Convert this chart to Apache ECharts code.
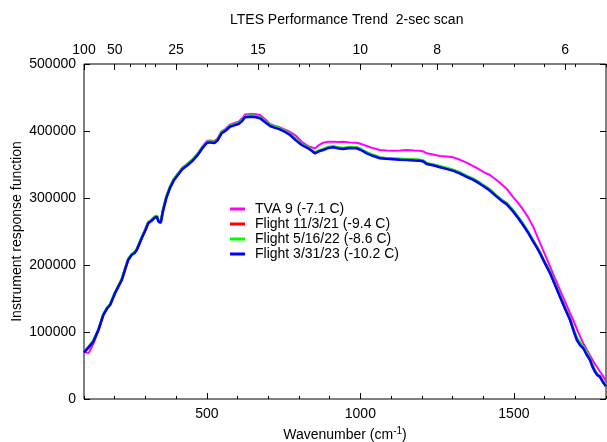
<!DOCTYPE html>
<html>
<head>
<meta charset="utf-8">
<script src="https://cdn.jsdelivr.net/npm/echarts@6/dist/echarts.min.js"></script>
<style>
html, body { margin: 0; padding: 0; background: #fff; }
#main { width: 607px; height: 442px; }
</style>
</head>
<body>
<div id="main"></div>
<script>
// wavenumber (cm-1) sample points, shared by all four curves
var wn = [100,115,130,147,163,175,185,201,223,235,
	244,255,265,272,288,300,309,320,330,337,
	343,350,357,368,380,392,405,420,440,456,
	470,485,500,510,525,535,548,560,575,590,
	603,615,624,646,660,673,690,706,720,738,
	755,771,790,809,830,852,865,879,895,912,
	930,944,965,988,1000,1021,1040,1064,1085,1107,
	1130,1151,1175,1194,1205,1216,1240,1259,1280,1303,
	1325,1346,1368,1390,1405,1422,1440,1460,1477,1498,
	1515,1531,1548,1563,1575,1585,1600,1618,1634,1650,
	1667,1683,1695,1705,1716,1726,1737,1748,1756,1764,
	1772,1780,1790,1800];

// response values, in thousands
var tva9 = [70,68.5,82,102.5,125.5,135.5,141,158.5,178,196,
	208.5,215.5,219,223.5,241,253,263.5,267.5,272,273.5,
	265.5,264.5,281.5,301.5,316.5,327.5,336,345,352.5,359,
	366.5,376.5,385,386,385,389,399.5,403,409.5,412,
	414,419,424.5,425.4,425,423.9,417.5,410.4,408,405.5,
	402,398.5,393,384,377.5,374,379,382.5,384,384,
	383.5,384,383,382.5,381,377.6,374.5,371.6,371,370.6,
	371,371.6,371,370.6,369.5,366.7,364.5,362.7,362,360.7,
	357,352.7,347.5,341.8,338,334.3,328,320.5,313.5,301,
	292,282,270,257.2,244,233,217,197.5,180,163,
	145,128,116,104.5,93,83.1,74,65,58.5,52,
	47,41,34.5,27];

var flight1 = [69.8,77.5,86,103.5,126,135.5,141,158.5,178.5,196,
	208.5,215.5,219,223.5,241,253,263,267,271.5,273,
	265.5,264,281,301,316,327,335,344,351,357.5,
	365,375,383,384,383,387,397.5,401,407.5,409.5,
	411.5,416,421.5,422.5,421.5,420,414,408.5,406,403.5,
	399.5,395,387,380,375,367.5,370.5,372.5,375.5,376.5,
	375,374,375.5,375,373,367.5,364,360,359,358.5,
	358,357.5,357,356.5,355.5,351.5,349,347,344.5,341.5,
	337.5,332.5,328,322,317.5,312,304.5,297,291.5,281,
	270.5,260,248,236,227,218.5,204.5,189,171.5,154,
	135.5,119,102.5,90,82,77,68,59.5,50,42,
	36,33.5,26,19.5];

var flight2 = [70,78,86.5,104,126.5,136,141.5,159,179,196.5,
	209,216,219.5,224,241.5,253.5,263.5,267.5,272,273.5,
	266,265,282,302,317,327.5,335.5,344.5,351.5,358,
	365.5,375.5,383.5,384.5,383.5,387.5,398,401.5,408,410,
	412,416.5,422,423,422,420.5,414.5,409,406.5,404,
	400,395.5,387.5,380.5,375.5,368,371,373,376,377,
	375.5,374.5,376,375.5,373.5,368,364.5,360.5,359.5,359,
	358.5,358,357.5,357,356,352,349.5,347.5,345,342,
	338,333,328.5,322.5,318,312.5,305,297.5,292,281.5,
	271,260.5,248.5,236.5,227.5,219,205,189.5,172,154.5,
	136,119.5,103,92,84,78,70,60,51,43,
	37,34,27,20];

var flight3 = [69.5,77,85.5,103,125.4,135,140.3,157.8,177.6,195,
	207.5,214.9,218,222.4,239.9,252,262.2,266,270.5,272,
	264.5,263,280,300,315,326,334,343,350,356.7,
	364,374,382,383,382,386,396.6,400,406.4,408.5,
	410.4,415,420.4,421.3,420.5,419,413,407.5,405,402.5,
	398.5,394,386,379.1,374.2,366.7,369.5,371.6,374.5,375.7,
	374,373.1,374.5,374.2,372,366.7,363,359.3,358.5,357.8,
	357,356.7,356,355.7,354.5,350.7,348.5,346,343.5,340.5,
	336.5,331.5,327,321,316.5,311,303.5,296,290.5,279.6,
	269.5,259,247,234.8,226,217.5,203.5,187.6,170,152.7,
	134.5,117.9,101,88.1,80,75.7,66,58.2,48,40.7,
	35.5,33.3,25,19];

var seriesNames = ['TVA 9 (-7.1 C)','Flight 11/3/21 (-9.4 C)','Flight 5/16/22 (-8.6 C)','Flight 3/31/23 (-10.2 C)'];
var seriesColors = ['#ff00ff','#ff0000','#00ff00','#0000ff'];
var seriesValues = [tva9, flight1, flight2, flight3];

// top axis: wavelength in microns
var wavelengths = [100,50,25,15,10,8,6];
var wlMinor = [40,30,20,12];
var bottomMajor = [500,1000,1500];

var FONT = 'Liberation Sans, Arial, Helvetica, sans-serif';

function pairs(vals)
{
	var out = [];
	for(var i = 0;i < wn.length;i++)
	{
		out.push([wn[i], vals[i]*1000]);
	}
	return out;
}
function plain(v)
{
	return String(v);
}

var wlPos = wavelengths.map(function(w){ return 10000/w; });
var minorTop = wlMinor.map(function(w){ return 10000/w; });
for(var t = 100;t <= 1800;t += 100)
{
	minorTop.push(t);
}

var series = [];
for(var s = 0;s < seriesValues.length;s++)
{
	series.push({
		name: seriesNames[s],
		type: 'line',
		xAxisIndex: 0,
		yAxisIndex: 0,
		showSymbol: false,
		symbol: 'none',
		data: pairs(seriesValues[s]),
		lineStyle: { color: seriesColors[s], width: s == 0 ? 2 : 2.5 },
		itemStyle: { color: seriesColors[s] },
		z: 2 + s
	});
}

var myChart = echarts.init(document.getElementById('main'));
var option = {
	animation: false,
	backgroundColor: '#fff',
	textStyle: { fontFamily: FONT },
	title: {
		text: 'LTES Performance Trend  2-sec scan',
		left: 225,
		top: 8,
		textStyle: { fontFamily: FONT, fontSize: 14, fontWeight: 'normal', color: '#000' }
	},
	legend: {
		orient: 'vertical',
		left: 225,
		top: 197,
		itemGap: 1,
		itemWidth: 15,
		itemHeight: 3,
		icon: 'rect',
		data: seriesNames,
		textStyle: { fontFamily: FONT, fontSize: 14, color: '#000', lineHeight: 14, padding: [0,0,0,5] }
	},
	grid: {
		left: 84, right: 1, top: 64, bottom: 43,
		outerBoundsMode: 'none',
		containLabel: false,
		show: true, borderColor: '#000', borderWidth: 1
	},
	xAxis: [
		{
			// minor ticks every 100
			type: 'value', position: 'bottom', min: 100, max: 1800, interval: 100,
			axisLine: { show: false },
			axisTick: { inside: true, length: 3, lineStyle: { color: '#000' } },
			axisLabel: { show: false },
			splitLine: { show: false }
		},
		{
			type: 'value', position: 'bottom', min: 100, max: 1800,
			axisLine: { show: false },
			axisTick: { inside: true, length: 6, customValues: bottomMajor, lineStyle: { color: '#000' } },
			axisLabel: { customValues: bottomMajor, margin: 8, fontSize: 14, color: '#000', fontFamily: FONT, formatter: plain },
			splitLine: { show: false },
			name: '{a|Wavenumber (cm}{s|-1}{a|)}',
			nameLocation: 'middle',
			nameGap: 27,
			nameTextStyle: {
				rich: {
					a: { fontFamily: FONT, fontSize: 14, color: '#000' },
					s: { fontFamily: FONT, fontSize: 10, color: '#000', padding: [0,0,8,0] }
				}
			}
		},
		{
			type: 'value', position: 'top', min: 100, max: 1800,
			axisLine: { show: false },
			axisTick: { inside: true, length: 6, customValues: wlPos, lineStyle: { color: '#000' } },
			axisLabel: {
				customValues: wlPos, margin: 7, fontSize: 14, color: '#000', fontFamily: FONT,
				formatter: function(v){ return String(Math.round(10000/v)); }
			},
			splitLine: { show: false }
		},
		{
			type: 'value', position: 'top', min: 100, max: 1800,
			axisLine: { show: false },
			axisTick: { inside: true, length: 3, customValues: minorTop, lineStyle: { color: '#000' } },
			axisLabel: { show: false },
			splitLine: { show: false }
		}
	],
	yAxis: [
		{
			type: 'value', min: 0, max: 500000, interval: 100000,
			axisLine: { show: false },
			axisTick: { inside: true, length: 6, lineStyle: { color: '#000' } },
			axisLabel: { margin: 8, fontSize: 14, color: '#000', fontFamily: FONT, formatter: plain },
			splitLine: { show: false },
			name: 'Instrument response function',
			nameLocation: 'middle',
			nameGap: 60,
			nameMoveOverlap: false,
			nameTextStyle: { fontFamily: FONT, fontSize: 14, color: '#000' }
		},
		{
			type: 'value', position: 'right', min: 0, max: 500000, interval: 100000,
			axisLine: { show: false },
			axisTick: { inside: true, length: 6, lineStyle: { color: '#000' } },
			axisLabel: { show: false },
			splitLine: { show: false }
		}
	],
	series: series
};
myChart.setOption(option);
</script>
</body>
</html>
